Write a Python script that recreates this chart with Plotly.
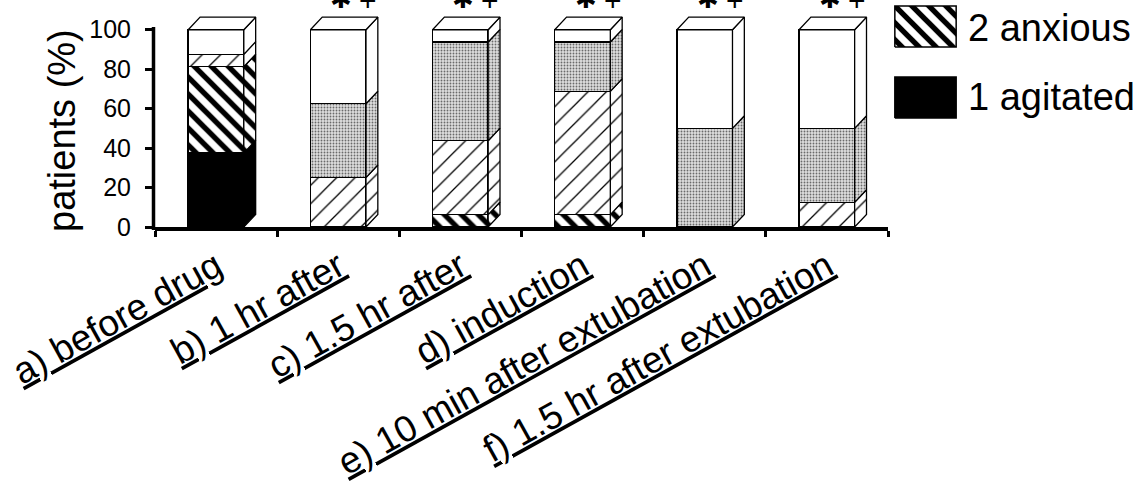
import plotly.graph_objects as go

# ---------------- data (percent of patients, n = 16) ----------------
categories = ["a) before drug", "b) 1 hr after", "c) 1.5 hr after", "d) induction",
              "e) 10 min after extubation", "f) 1.5 hr after extubation"]
agitated = [37.5, 0, 0, 0, 0, 0]
anxious = [43.75, 0, 6.25, 6.25, 0, 0]
calm = [6.25, 25, 37.5, 62.5, 0, 12.5]
drowsy = [0, 37.5, 50, 25, 50, 37.5]
asleep = [12.5, 37.5, 6.25, 6.25, 50, 50]
yticks = [0, 20, 40, 60, 80, 100]
y_title = "patients (%)"
legend_labels = ["2 anxious", "1 agitated"]
sig_marks = ["✱", "+"]
sig_flags = [False, True, True, True, True, True]

# ---------------- styling ----------------
W, H = 1138, 482
FONT = "Liberation Sans, Arial, Helvetica, sans-serif"
PX_L, PX_R, PX_B, PX_T = 155, 888, 227, 10     # plot area in pixels
YMAX = 110
BAR_OFF, BAR_W = -0.228, 0.455
DX, DY = 0.097, 6.4                              # pseudo-3D depth (x units, y units)

series = [
    dict(name="1 agitated", vals=agitated, color="black", pattern=None),
    dict(name="2 anxious", vals=anxious, color="white",
         pattern=dict(shape="\\", fgcolor="black", bgcolor="white", size=12, solidity=0.45)),
    dict(name="3", vals=calm, color="white",
         pattern=dict(shape="/", fgcolor="black", bgcolor="white", size=13, solidity=0.1)),
    dict(name="4", vals=drowsy, color="#d0d0d0",
         pattern=dict(shape=".", fgcolor="#6a6a6a", bgcolor="#dedede", size=3, solidity=0.3)),
    dict(name="5", vals=asleep, color="white", pattern=None),
]

fig = go.Figure()

# front faces: stacked bars
for s in series:
    marker = dict(color=s["color"], line=dict(color="black", width=1.5))
    if s["pattern"]:
        marker["pattern"] = dict(fillmode="replace", **s["pattern"])
    fig.add_trace(go.Bar(x=categories, y=s["vals"], name=s["name"], marker=marker,
                         width=BAR_W, offset=BAR_OFF, showlegend=False,
                         xaxis="x", yaxis="y"))

# side faces (computed from the stacked data)
base = [0.0] * len(categories)
for s in series:
    xs, ys = [], []
    for i, v in enumerate(s["vals"]):
        if v > 0:
            xr = i + BAR_OFF + BAR_W
            b, t = base[i], base[i] + v
            xs += [xr, xr + DX, xr + DX, xr, xr, None]
            ys += [b, b + DY, t + DY, t, b, None]
        base[i] += v
    tr = dict(x=xs, y=ys, mode="lines", fill="toself", line=dict(color="black", width=1.3),
              showlegend=False, hoverinfo="skip", xaxis="x2", yaxis="y")
    if s["pattern"]:
        tr["fillpattern"] = dict(fillmode="replace", **s["pattern"])
        tr["fillcolor"] = s["pattern"]["bgcolor"]
    else:
        tr["fillcolor"] = s["color"]
    fig.add_trace(go.Scatter(**tr))

# top faces
xs, ys = [], []
for i, tot in enumerate(base):
    xl = i + BAR_OFF
    xr = xl + BAR_W
    xs += [xl, xl + DX, xr + DX, xr, xl, None]
    ys += [tot, tot + DY, tot + DY, tot, tot, None]
fig.add_trace(go.Scatter(x=xs, y=ys, mode="lines", fill="toself", fillcolor="white",
                         line=dict(color="black", width=1.3), showlegend=False,
                         hoverinfo="skip", xaxis="x2", yaxis="y"))

# custom legend (large swatches) on a small helper subplot
sw_y = [(71, 112), (0, 41)]
for lab, (y0, y1), s in zip(legend_labels, sw_y, [series[1], series[0]]):
    tr = dict(x=[0, 1, 1, 0, 0], y=[y0, y0, y1, y1, y0], mode="lines", fill="toself",
              line=dict(color="black", width=1.5), showlegend=False, hoverinfo="skip",
              xaxis="x3", yaxis="y3")
    if s["pattern"]:
        tr["fillpattern"] = dict(fillmode="replace", **s["pattern"])
        tr["fillcolor"] = "white"
    else:
        tr["fillcolor"] = s["color"]
    fig.add_trace(go.Scatter(**tr))

annotations = []
for lab, ypx in zip(legend_labels, [28, 97]):
    annotations.append(dict(text=lab, xref="paper", yref="paper", x=966 / W, y=(H - ypx) / H,
                            xanchor="left", yanchor="middle", showarrow=False,
                            font=dict(family=FONT, size=38, color="black")))

# y-axis title
annotations.append(dict(text=y_title, xref="paper", yref="paper", x=62 / W, y=(H - 131) / H,
                        xanchor="center", yanchor="middle", textangle=-90, showarrow=False,
                        font=dict(family=FONT, size=38, color="black")))

# significance markers above bars (partly cut off at the top, as in the source)
for i, flag in enumerate(sig_flags):
    if flag:
        annotations.append(dict(text=sig_marks[0], xref="x", yref="paper", x=categories[i],
                                y=(H + 1) / H, xshift=3, yanchor="middle", showarrow=False,
                                font=dict(family="DejaVu Sans", size=26, color="black")))
        annotations.append(dict(text=sig_marks[1], xref="x", yref="paper", x=categories[i],
                                y=(H - 1) / H, xshift=30, yanchor="middle", showarrow=False,
                                font=dict(family=FONT, size=30, color="black")))

xdom = [PX_L / W, PX_R / W]
ydom = [(H - PX_B) / H, (H - PX_T) / H]

fig.update_layout(
    width=W, height=H, template="none",
    paper_bgcolor="white", plot_bgcolor="rgba(0,0,0,0)",
    margin=dict(l=0, r=0, t=0, b=0),
    barmode="stack", bargap=0, showlegend=False,
    font=dict(family=FONT, color="black"),
    xaxis=dict(domain=xdom, type="category", range=[-0.5, 5.5], showline=True,
               linecolor="black", linewidth=3.5, ticks="outside", tickson="boundaries",
               ticklen=6, tickwidth=3, tickcolor="black", tickangle=-29,
               tickfont=dict(family=FONT, size=37, color="black", lineposition="under"),
               showgrid=False, zeroline=False, automargin=False, fixedrange=True),
    xaxis2=dict(overlaying="x", range=[-0.5, 5.5], visible=False, fixedrange=True,
                anchor="y"),
    yaxis=dict(domain=ydom, range=[0, YMAX], tickvals=yticks, ticks="outside", ticklen=9,
               tickwidth=3, tickcolor="black", showline=False, showgrid=False,
               zeroline=False, tickfont=dict(family=FONT, size=25, color="black"),
               ticklabelstandoff=9, automargin=False, fixedrange=True),
    xaxis3=dict(domain=[893 / W, 958 / W], range=[-0.03, 1.03], visible=False,
                anchor="y3", fixedrange=True),
    yaxis3=dict(domain=[(H - 120) / H, (H - 4) / H], range=[-2, 114], visible=False,
                anchor="x3", fixedrange=True),
    annotations=annotations,
    shapes=[dict(type="line", xref="paper", yref="paper",
                 x0=(PX_L - 1.5) / W, x1=(PX_L - 1.5) / W,
                 y0=(H - PX_B - 3) / H, y1=(H - 27) / H,
                 line=dict(color="black", width=3.5))],
)

fig.write_html("out.html", config={"displayModeBar": False, "staticPlot": True},
               post_script="document.body.style.margin='0px';"
                           "document.body.style.overflow='hidden';")
